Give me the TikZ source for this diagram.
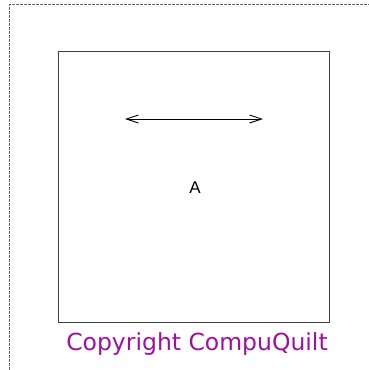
\documentclass[tikz,border=0pt]{standalone}
\usepackage{fontspec}
\setmainfont{Liberation Sans}
\newfontfamily\copyfont{DejaVu Sans}
\usetikzlibrary{arrows.meta}
\definecolor{cqpurple}{HTML}{A0109F}
\tikzset{
  frame/.style={draw=black!60, dashed, dash pattern=on 3pt off 1pt, line width=0.8pt},
  box/.style={draw=black!75, line width=1pt},
  dim/.style={line width=0.9pt, {Straight Barb[length=12pt,width=8pt]}-{Straight Barb[length=12pt,width=8pt]}}
}
\begin{document}
\begin{tikzpicture}[x=1pt,y=-1pt]
\useasboundingbox (0,0) rectangle (369,370);
\fill[white] (0,0) rectangle (369,370);
\draw[frame] (9.5,370) -- (9.5,4.5) -- (369,4.5);
\draw[box] (58,51) rectangle (329,322);
\coordinate (l) at (125,119);
\coordinate (r) at (263,119);
\draw[dim] (l) -- (r);
\node[font=\fontsize{17}{20}\selectfont] (a) at (195,188) {A};
\node[text=cqpurple, font=\copyfont\fontsize{23.5}{28}\selectfont] (c) at (197,344) {Copyright CompuQuilt};
\end{tikzpicture}
\end{document}
